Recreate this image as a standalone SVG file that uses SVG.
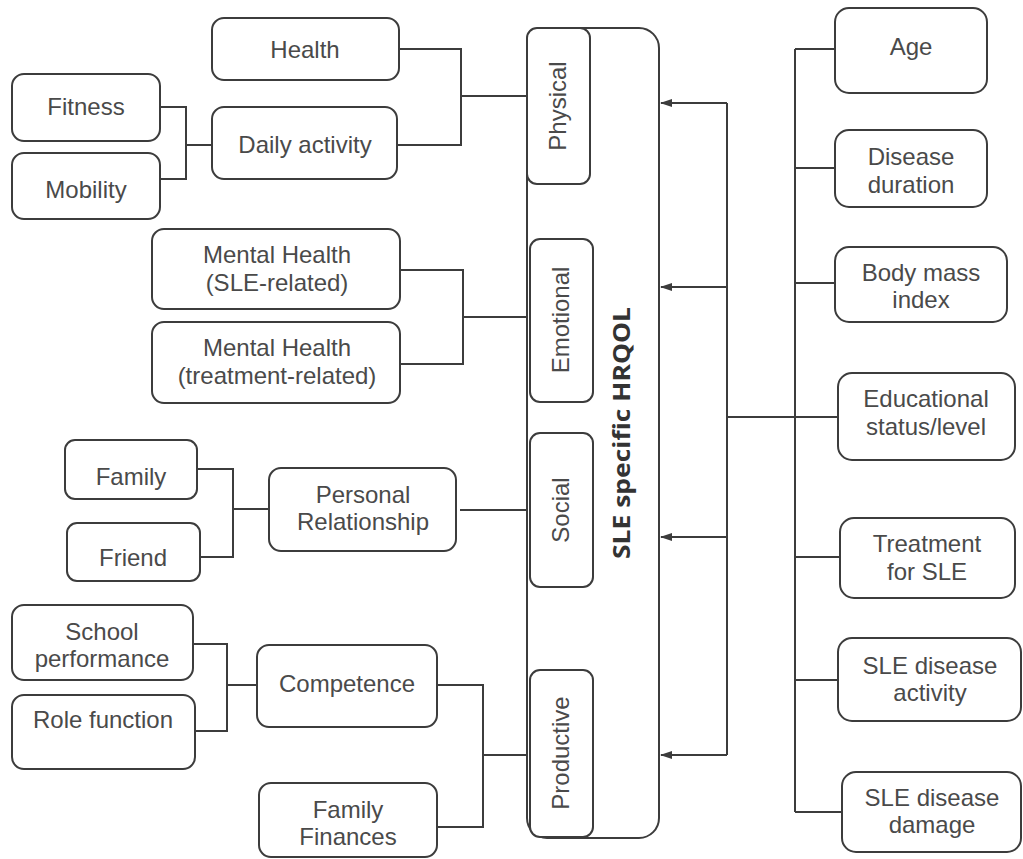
<svg xmlns="http://www.w3.org/2000/svg" width="1023" height="859" viewBox="0 0 1023 859">
<style>
.b{fill:#fff;stroke:#3c3c3c;stroke-width:2}
.t{font-family:"Liberation Sans",Arial,sans-serif;font-size:24px;fill:#4a4a4a;text-anchor:middle}
.c{fill:none;stroke:#3c3c3c;stroke-width:2}
.h{font-family:"Open Sans","Liberation Sans",sans-serif;font-size:23px;font-weight:bold;fill:#333;text-anchor:middle}
</style>
<defs>
<marker id="ar" markerWidth="12" markerHeight="10" refX="11" refY="5" orient="auto" markerUnits="userSpaceOnUse">
<path d="M0,1 L12,5 L0,9 Z" fill="#3c3c3c"/>
</marker>
</defs>
<rect width="1023" height="859" fill="#fff"/>
<g id="connectors">
<path class="c" d="M399,49 H461 V145 H397 M461,96 H527"/>
<path class="c" d="M160,107 H186 V179 H160 M186,145 H212"/>
<path class="c" d="M400,270 H463 V364 H400 M463,317 H530"/>
<path class="c" d="M197,469 H233 V557 H200 M233,509 H269"/>
<path class="c" d="M460,510 H530"/>
<path class="c" d="M193,644 H227 V731 H195 M227,685 H257"/>
<path class="c" d="M437,685 H483 V827 H437 M483,755 H530"/>
<path class="c" d="M727,103 V755"/>
<path class="c" d="M727,103 H661" marker-end="url(#ar)"/>
<path class="c" d="M727,287 H661" marker-end="url(#ar)"/>
<path class="c" d="M727,537 H661" marker-end="url(#ar)"/>
<path class="c" d="M727,755 H661" marker-end="url(#ar)"/>
<path class="c" d="M727,417 H838"/>
<path class="c" d="M795,49 V812 M795,49 H835 M795,168 H835 M795,283 H835 M795,557 H840 M795,680 H838 M795,812 H842"/>
</g>
<g id="hrqol"><rect class="b" x="527" y="28" width="132" height="810" rx="20"/>
<text class="h" transform="translate(622,433) rotate(-90)" y="8" textLength="252" lengthAdjust="spacingAndGlyphs">SLE specific HRQOL</text></g>
<g id="physical"><rect class="b" x="527" y="28" width="63" height="156" rx="10"/><text class="t" transform="translate(558,106) rotate(-90)" y="8">Physical</text></g>
<g id="emotional"><rect class="b" x="530" y="239" width="63" height="163" rx="10"/><text class="t" transform="translate(561,320) rotate(-90)" y="8">Emotional</text></g>
<g id="social"><rect class="b" x="530" y="433" width="63" height="154" rx="10"/><text class="t" transform="translate(561,510) rotate(-90)" y="8">Social</text></g>
<g id="productive"><rect class="b" x="530" y="670" width="63" height="167" rx="10"/><text class="t" transform="translate(561,753) rotate(-90)" y="8">Productive</text></g>
<g id="health"><rect class="b" x="212" y="18" width="187" height="62" rx="12"/><text class="t" x="305" y="58">Health</text></g>
<g id="daily"><rect class="b" x="212" y="107" width="185" height="72" rx="12"/><text class="t" x="305" y="153">Daily activity</text></g>
<g id="fitness"><rect class="b" x="12" y="74" width="148" height="67" rx="12"/><text class="t" x="86" y="115">Fitness</text></g>
<g id="mobility"><rect class="b" x="12" y="153" width="148" height="66" rx="12"/><text class="t" x="86" y="198">Mobility</text></g>
<g id="mh1"><rect class="b" x="152" y="229" width="248" height="80" rx="12"/><text class="t" x="277" y="263">Mental Health</text><text class="t" x="277" y="291">(SLE-related)</text></g>
<g id="mh2"><rect class="b" x="152" y="322" width="248" height="81" rx="12"/><text class="t" x="277" y="356">Mental Health</text><text class="t" x="277" y="384">(treatment-related)</text></g>
<g id="family"><rect class="b" x="65" y="440" width="132" height="59" rx="10"/><text class="t" x="131" y="485">Family</text></g>
<g id="friend"><rect class="b" x="67" y="523" width="133" height="58" rx="10"/><text class="t" x="133" y="566">Friend</text></g>
<g id="personal"><rect class="b" x="269" y="468" width="187" height="83" rx="12"/><text class="t" x="363" y="503">Personal</text><text class="t" x="363" y="530">Relationship</text></g>
<g id="school"><rect class="b" x="12" y="605" width="181" height="75" rx="12"/><text class="t" x="102" y="640">School</text><text class="t" x="102" y="667">performance</text></g>
<g id="role"><rect class="b" x="12" y="695" width="183" height="74" rx="12"/><text class="t" x="103" y="728">Role function</text></g>
<g id="competence"><rect class="b" x="257" y="645" width="180" height="82" rx="12"/><text class="t" x="347" y="692">Competence</text></g>
<g id="finances"><rect class="b" x="259" y="783" width="178" height="74" rx="12"/><text class="t" x="348" y="818">Family</text><text class="t" x="348" y="845">Finances</text></g>
<g id="age"><rect class="b" x="835" y="8" width="152" height="85" rx="14"/><text class="t" x="911" y="55">Age</text></g>
<g id="duration"><rect class="b" x="835" y="130" width="152" height="77" rx="14"/><text class="t" x="911" y="165">Disease</text><text class="t" x="911" y="193">duration</text></g>
<g id="bmi"><rect class="b" x="835" y="247" width="172" height="75" rx="14"/><text class="t" x="921" y="281">Body mass</text><text class="t" x="921" y="308">index</text></g>
<g id="edu"><rect class="b" x="838" y="373" width="177" height="87" rx="14"/><text class="t" x="926" y="407">Educational</text><text class="t" x="926" y="435">status/level</text></g>
<g id="treatment"><rect class="b" x="840" y="518" width="175" height="80" rx="14"/><text class="t" x="927" y="552">Treatment</text><text class="t" x="927" y="580">for SLE</text></g>
<g id="activity"><rect class="b" x="838" y="638" width="183" height="83" rx="14"/><text class="t" x="930" y="674">SLE disease</text><text class="t" x="930" y="701">activity</text></g>
<g id="damage"><rect class="b" x="842" y="772" width="179" height="80" rx="14"/><text class="t" x="932" y="806">SLE disease</text><text class="t" x="932" y="833">damage</text></g>
</svg>
